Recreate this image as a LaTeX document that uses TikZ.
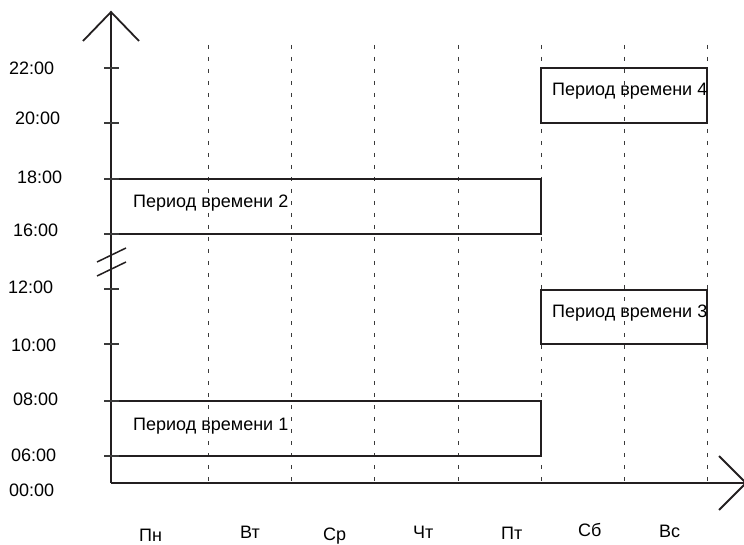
\documentclass[tikz,border=0pt]{standalone}
\usepackage{fontspec}
\setmainfont{Liberation Sans}

\begin{document}
\begin{tikzpicture}[x=1pt, y=-1pt, font=\fontsize{18}{21}\selectfont]
    % Define colours
    \definecolor{lineColour}{HTML}{231F20}
    \definecolor{gridColour}{HTML}{3A3A3A}

    % Define styles
    \tikzset{
        axisLine/.style={draw=lineColour, line width=1.8pt},
        periodBox/.style={draw=lineColour, line width=1.6pt},
        dayLine/.style={draw=gridColour, line width=1pt, dash pattern=on 4pt off 8pt},
        tickLine/.style={draw=gridColour, line width=1.2pt},
        timeText/.style={anchor=base west, inner sep=0pt}
    }

    % Fix the page size
    \useasboundingbox (0,0) rectangle (744,545);

    % Define the origin
    \coordinate (origin) at (111,483);

    % Draw day lines
    \foreach \x in {208,291,374,458,541,624,707}
        \draw[dayLine] (\x,45) -- (\x,483);

    % Draw the periods
    \draw[periodBox] (111,401) rectangle (541,456);
    \draw[periodBox] (111,179) rectangle (541,234);
    \draw[periodBox] (541,290) rectangle (707,344);
    \draw[periodBox] (541,68) rectangle (707,123);

    \node[timeText] (period1) at (133,430) {Период времени 1};
    \node[timeText] (period2) at (133,208) {Период времени 2};
    \node[timeText] (period3) at (552,317) {Период времени 3};
    \node[timeText] (period4) at (552,96) {Период времени 4};

    % Draw axes
    \draw[axisLine] (origin) -- (111,12) coordinate (yTip);
    \draw[axisLine] (83,41) -- (yTip) -- (139,41);
    \draw[axisLine] (origin) -- (746,483) coordinate (xTip);
    \draw[axisLine] (719,456) -- (xTip) -- (719,510);

    % Draw the axis break
    \draw[axisLine, line width=1.5pt] (97,262) -- (126,248);
    \draw[axisLine, line width=1.5pt] (97,276) -- (126,262);

    % Label y-axis
    \foreach \y/\lx/\ly/\t in {68/9/75/22:00, 123/15/125/20:00, 179/17/184/18:00,
            234/13/237/16:00, 289/8/294/12:00, 344/11/351/10:00,
            401/13/405/08:00, 456/11/461/06:00}
    {
        \draw[tickLine] (104,\y) -- (119,\y);
        \node[timeText] (time\y) at (\lx,\ly) {\t};
    }
    \node[timeText] (time483) at (9,496) {00:00};

    % Label x-axis
    \foreach \x/\y/\d in {139/541/Пн, 240/538/Вт, 323/540/Ср, 413/538/Чт,
            501/539/Пт, 578/536/Сб, 659/537/Вс}
        \node[timeText] (day\x) at (\x,\y) {\d};

\end{tikzpicture}
\end{document}
